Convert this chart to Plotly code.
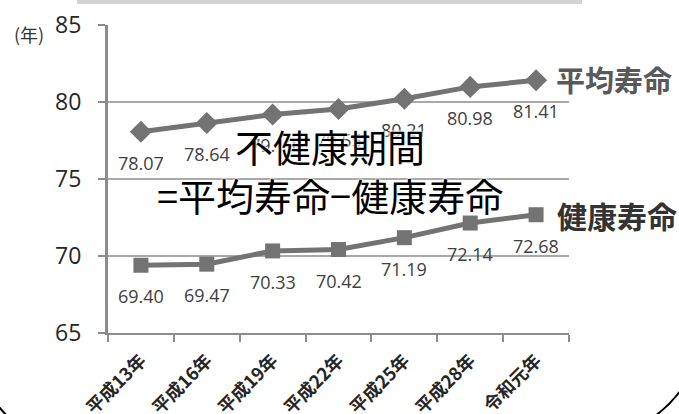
import plotly.graph_objects as go

categories = ["平成13年", "平成16年", "平成19年", "平成22年", "平成25年", "平成28年", "令和元年"]
avg_life = [78.07, 78.64, 79.19, 79.55, 80.21, 80.98, 81.41]
healthy_life = [69.40, 69.47, 70.33, 70.42, 71.19, 72.14, 72.68]
y_ticks = [65, 70, 75, 80, 85]

W, H = 679, 414
L, R, T, B = 108, 569, 25, 333

def px(x):
    return (x - L) / (R - L)

def py(y):
    return (B - y) / (B - T)

line_col = "#737373"
num_font = "Open Sans, Noto Sans CJK JP, sans-serif"
jp_font = "Noto Sans CJK JP, sans-serif"

fig = go.Figure()
fig.add_trace(go.Scatter(
    x=categories, y=avg_life, mode="lines+markers", name="平均寿命",
    line=dict(color=line_col, width=5),
    marker=dict(symbol="diamond", size=17, color=line_col),
    cliponaxis=False, showlegend=False))
fig.add_trace(go.Scatter(
    x=categories, y=healthy_life, mode="lines+markers", name="健康寿命",
    line=dict(color=line_col, width=5),
    marker=dict(symbol="square", size=15, color=line_col),
    cliponaxis=False, showlegend=False))

ann = []
for c, v in zip(categories, avg_life):
    ann.append(dict(x=c, y=v, text=f"{v:.2f}", showarrow=False, yshift=-31,
                    font=dict(family=num_font, size=18, color="#404040")))
for c, v in zip(categories, healthy_life):
    ann.append(dict(x=c, y=v, text=f"{v:.2f}", showarrow=False, yshift=-31,
                    font=dict(family=num_font, size=18, color="#404040")))

ann.append(dict(x=categories[-1], y=avg_life[-1], text="<b>平均寿命</b>", showarrow=False,
                xanchor="left", yanchor="middle", xshift=18, yshift=1,
                font=dict(family=jp_font, size=29, color="#595959")))
ann.append(dict(x=categories[-1], y=healthy_life[-1], text="<b>健康寿命</b>", showarrow=False,
                xanchor="left", yanchor="middle", xshift=19,
                font=dict(family=jp_font, size=30, color="#333333")))
ann.append(dict(xref="paper", yref="paper", x=px(12), y=py(34), text="(年)", showarrow=False,
                xanchor="left", yanchor="middle",
                font=dict(family=jp_font, size=18, color="#333333")))
ann.append(dict(xref="paper", yref="paper", x=px(330), y=py(170),
                text="不健康期間<br>=平均寿命−健康寿命", showarrow=False,
                xanchor="center", yanchor="middle", align="center",
                font=dict(family=jp_font, size=38, color="#000000",
                          shadow="0 0 3px #ffffff, 0 0 3px #ffffff, 0 0 2px #ffffff")))

shapes = [
    dict(type="rect", xref="paper", yref="paper", x0=px(77), x1=px(582), y0=py(4), y1=py(-2),
         fillcolor="#d3d3d3", line=dict(width=0), layer="above"),
    dict(type="path", xref="paper", yref="paper",
         path=f"M {px(681)},{py(390)} Q {px(670)},{py(405)} {px(655)},{py(416)}",
         line=dict(color="#000000", width=2)),
    dict(type="path", xref="paper", yref="paper",
         path=f"M {px(-1)},{py(407)} L {px(7)},{py(416)}",
         line=dict(color="#000000", width=2)),
]

fig.update_layout(
    width=W, height=H,
    margin=dict(l=L, r=W - R, t=T, b=H - B, pad=0, autoexpand=False),
    paper_bgcolor="white", plot_bgcolor="white",
    annotations=ann, shapes=shapes,
    xaxis=dict(type="category", tickson="boundaries", ticks="outside", ticklen=7,
               tickcolor="#8c8c8c", tickwidth=2, showgrid=False, automargin=False,
               showline=True, linecolor="#8c8c8c", linewidth=2,
               tickangle=-45, ticklabelstandoff=8,
               tickfont=dict(family=jp_font, size=18, color="#262626", weight="bold"),
               range=[-0.5, 6.5]),
    yaxis=dict(range=[65, 85], tickvals=y_ticks, ticks="outside", ticklen=7,
               tickcolor="#8c8c8c", tickwidth=2, ticklabelstandoff=12, automargin=False,
               showgrid=True, gridcolor="#a8a8a8", gridwidth=1.5,
               showline=True, linecolor="#8c8c8c", linewidth=3, zeroline=False,
               tickfont=dict(family=num_font, size=23, color="#262626")),
)

fig.write_html("out.html")
